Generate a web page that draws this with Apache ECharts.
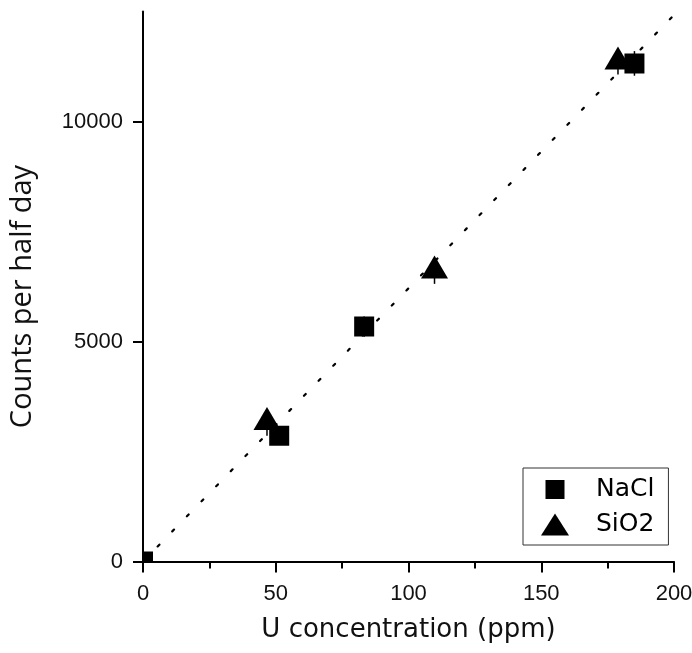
<!DOCTYPE html>
<html><head><meta charset="utf-8">
<script src="https://cdn.jsdelivr.net/npm/echarts@6/dist/echarts.min.js"></script>
<style>html,body{margin:0;padding:0;background:#fff}#c{width:692px;height:653px}</style>
</head><body><div id="c"></div>
<script>
const naclX = [0, 51.3, 83.3, 185.1];
const naclY = [0, 2860, 5340, 11320];
const naclErr = [0, 170, 230, 280];
const sio2X = [46.7, 109.8, 178.9];
const sio2Y = [3160, 6600, 11350];
const sio2Err = [300, 290, 280];
const fitX = [0, 200];
const fitY = [0, 12420];
const xAxisRange = [0, 200, 50];
const yAxisRange = [0, 12500, 5000];
const seriesNames = ['NaCl', 'SiO2'];
const xTitle = 'U concentration (ppm)';
const yTitle = 'Counts per half day';

const naclData = naclX.map((x, i) => [x, naclY[i]]);
const sio2Data = sio2X.map((x, i) => [x, sio2Y[i]]);
const errData = naclX.map((x, i) => [x, naclY[i], naclErr[i]])
  .concat(sio2X.map((x, i) => [x, sio2Y[i], sio2Err[i]]));
const fitData = fitX.map((x, i) => [x, fitY[i]]);

const chart = echarts.init(document.getElementById('c'), null, {renderer: 'canvas'});
const option = {
  animation: false,
  backgroundColor: '#fff',
  grid: {left: 143, right: 18, top: 11.5, bottom: 91.5, containLabel: false, outerBoundsMode: 'none'},
  xAxis: {
    type: 'value', min: xAxisRange[0], max: xAxisRange[1], interval: xAxisRange[2],
    name: xTitle, nameLocation: 'middle', nameGap: 56, nameMoveOverlap: false,
    nameTextStyle: {fontFamily: 'DejaVu Sans', fontSize: 26, color: '#111'},
    axisLine: {show: true, lineStyle: {color: '#000', width: 2}},
    axisTick: {show: true, inside: false, length: 11, lineStyle: {color: '#000', width: 2}},
    minorTick: {show: true, splitNumber: 2, length: 7, lineStyle: {color: '#000', width: 2}},
    axisLabel: {margin: 21, fontFamily: 'Liberation Sans', fontSize: 22, color: '#111'},
    splitLine: {show: false}, minorSplitLine: {show: false}
  },
  yAxis: {
    type: 'value', min: yAxisRange[0], max: yAxisRange[1], interval: yAxisRange[2],
    name: yTitle, nameLocation: 'middle', nameGap: 106, nameRotate: 90, nameMoveOverlap: false,
    nameTextStyle: {fontFamily: 'Open Sans', fontSize: 29, color: '#111', padding: [0, 20, 0, 0]},
    axisLine: {show: true, lineStyle: {color: '#000', width: 2}},
    axisTick: {show: true, inside: false, length: 10, lineStyle: {color: '#000', width: 2}},
    axisLabel: {margin: 20, fontFamily: 'Liberation Sans', fontSize: 22, color: '#111', showMaxLabel: false,
      formatter: function (v) { return String(v); }},
    splitLine: {show: false}
  },
  legend: {
    left: 523, top: 468, orient: 'vertical', selectedMode: false,
    padding: [9, 14, 8, 18], itemGap: 10, itemWidth: 28, itemHeight: 22,
    borderColor: '#333', borderWidth: 1, backgroundColor: '#fff',
    textStyle: {fontFamily: 'DejaVu Sans', fontSize: 25, color: '#000', padding: [0, 0, 0, 22]},
    data: [
      {name: seriesNames[0], icon: 'path://M0,0L0.01,0.01ZM4.5,1.5L23.5,1.5L23.5,20.5L4.5,20.5ZM28,22L27.99,21.99Z'},
      {name: seriesNames[1], icon: 'triangle', itemStyle: {color: '#000', opacity: 1}}
    ]
  },
  series: [
    {
      type: 'line', name: 'fit', data: fitData, showSymbol: false, silent: true, z: 1,
      lineStyle: {color: '#000', width: 2.2, type: [2.5, 18.5], cap: 'round'}
    },
    {
      type: 'custom', name: 'err', data: errData, silent: true, z: 2,
      renderItem: function (params, api) {
        const x = api.value(0), y = api.value(1), e = api.value(2);
        const p1 = api.coord([x, y - e]);
        const p2 = api.coord([x, y + e]);
        return {type: 'line', shape: {x1: p1[0], y1: p1[1], x2: p2[0], y2: p2[1]},
          style: {stroke: '#000', lineWidth: 1.5}};
      }
    },
    {
      type: 'custom', name: seriesNames[0], data: naclData, clip: true, z: 3,
      itemStyle: {color: '#000'},
      encode: {x: 0, y: 1},
      renderItem: function (params, api) {
        const p = api.coord([api.value(0), api.value(1)]);
        return {type: 'rect', shape: {x: p[0] - 10, y: p[1] - 10, width: 20, height: 20},
          style: {fill: '#000'}};
      }
    },
    {
      type: 'scatter', name: seriesNames[1], data: sio2Data, z: 3,
      symbol: 'triangle', symbolSize: [27, 23], symbolOffset: [0, -4],
      itemStyle: {color: '#000', opacity: 1}
    }
  ]
};
chart.setOption(option);
</script>
</body></html>
